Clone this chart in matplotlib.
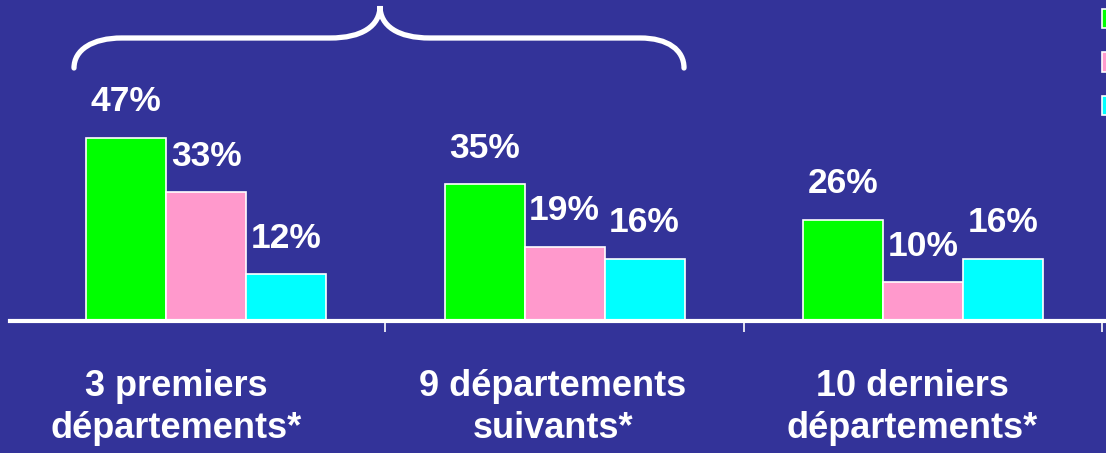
import matplotlib.pyplot as plt
from matplotlib.path import Path
from matplotlib.patches import PathPatch, Patch
import matplotlib.transforms as mtransforms
import numpy as np

categories = ["3 premiers\ndépartements*", "9 départements\nsuivants*", "10 derniers\ndépartements*"]
values = [
    [47, 35, 26],
    [33, 19, 10],
    [12, 16, 16],
]
colors = ["#00FF00", "#FF99CC", "#00FFFF"]
bg = "#333399"

plt.rcParams['font.family'] = ['Liberation Sans', 'DejaVu Sans']

fig = plt.figure(figsize=(11.06, 4.53), dpi=100, facecolor=bg)
W, H = 1106, 453
ax = fig.add_axes([10 / W, (H - 321) / H, 1 - 10 / W, 321 / H])
ax.set_facecolor(bg)

x = np.arange(len(categories))
width = 0.223
for i, vals in enumerate(values):
    pos = x + (i - 1) * width
    ax.bar(pos, vals, width, color=colors[i], edgecolor="white", linewidth=1.2, zorder=2)
    for p, v in zip(pos, vals):
        ax.annotate(f"{v}%", (p, v), xytext=(0, 14), textcoords="offset points",
                    ha="center", va="bottom", color="white", fontsize=25.5,
                    fontweight="bold")

ax.set_xlim(-0.547, 2.51)
ax.set_ylim(0, 82.3)
for s in ["top", "right", "left"]:
    ax.spines[s].set_visible(False)
ax.spines["bottom"].set_color("white")
ax.spines["bottom"].set_linewidth(3)
ax.set_yticks([])
ax.set_xticks(x)
ax.set_xticklabels(categories, color="white", fontsize=26, fontweight="bold",
                   linespacing=1.25)
ax.tick_params(axis="x", which="major", length=0, pad=34.5)
ax.set_xticks([0.5, 1.5, 2.5], minor=True)
ax.tick_params(axis="x", which="minor", length=8, width=1.2, color="white", direction="out")

# category labels sit a little left of the group centres in the original
for lab, dx in zip(ax.get_xticklabels(), [-30, -12, -11]):
    lab.set_transform(lab.get_transform() +
                      mtransforms.ScaledTranslation(dx / 100, 0, fig.dpi_scale_trans))

# brace over the first two groups (overlay in pixel coordinates)
ov = fig.add_axes([0, 0, 1, 1], facecolor="none")
ov.set_xlim(0, W)
ov.set_ylim(H, 0)
ov.axis("off")
verts = [
    (74, 68), (74, 50), (92, 38), (122, 38),
    (330, 38),
    (362, 38), (380, 26), (380, 6),
    (380, 26), (398, 38), (430, 38),
    (640, 38),
    (668, 38), (684, 50), (684, 68),
]
codes = [Path.MOVETO, Path.CURVE4, Path.CURVE4, Path.CURVE4,
         Path.LINETO,
         Path.CURVE4, Path.CURVE4, Path.CURVE4,
         Path.CURVE4, Path.CURVE4, Path.CURVE4,
         Path.LINETO,
         Path.CURVE4, Path.CURVE4, Path.CURVE4]
ov.add_patch(PathPatch(Path(verts, codes), facecolor="none", edgecolor="white",
                       linewidth=3.8, capstyle="round"))

# legend keys, cut off at the right edge as in the original (no visible text)
handles = [Patch(facecolor=c, edgecolor="white", linewidth=1.2) for c in colors]
fig.legend(handles, ["", "", ""], loc="upper left", bbox_to_anchor=(1102 / W, 1 - 9 / H),
           frameon=False, fontsize=12, handlelength=1.3, handleheight=1.4,
           labelspacing=1.45, borderpad=0, borderaxespad=0, handletextpad=0)

fig.savefig("out.png", dpi=100, facecolor=bg)
